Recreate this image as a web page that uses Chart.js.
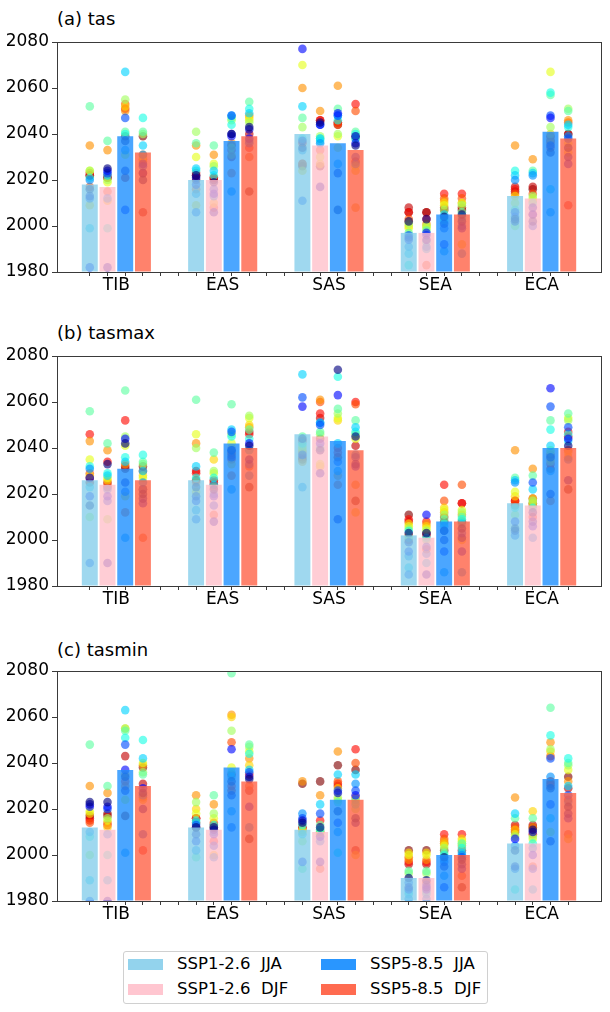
<!DOCTYPE html>
<html><head><meta charset="utf-8">
<script src="https://cdn.jsdelivr.net/npm/chart.js@4/dist/chart.umd.min.js"></script>
<style>
body{margin:0;background:#fff;width:610px;height:1012px;position:relative;overflow:hidden;font-family:"DejaVu Sans",sans-serif;}
.panel{position:absolute;left:0;width:610px;height:310px;}
.ttl{position:absolute;left:57px;font-size:18px;line-height:22px;color:#000;}
#legend{position:absolute;left:123px;top:951px;width:363px;height:51px;border:1px solid #d0d0d0;border-radius:3px;}
.it{position:absolute;font-size:16.5px;line-height:20px;white-space:pre;color:#000;}
.pt{position:absolute;width:35px;height:11px;}
</style></head><body>
<div class="ttl" style="top:8px">(a) tas</div>
<div class="ttl" style="top:322px">(b) tasmax</div>
<div class="ttl" style="top:639px">(c) tasmin</div>
<canvas id="c0" class="panel" width="610" height="310" style="top:0px"></canvas>
<canvas id="c1" class="panel" width="610" height="310" style="top:314px"></canvas>
<canvas id="c2" class="panel" width="610" height="310" style="top:629px"></canvas>
<div id="legend"></div>
<script>
const regions = ['TIB','EAS','SAS','SEA','ECA'];
const seriesNames = ['SSP1-2.6  JJA','SSP1-2.6  DJF','SSP5-8.5  JJA','SSP5-8.5  DJF'];
const yTicks = [1980, 2000, 2020, 2040, 2060, 2080];

// bar heights [series][region]
const tasBars    = [[2018,2020,2040,1997,2013],[2017,2020,2035,1997,2012],[2039,2037,2036,2005,2041],[2032,2039,2033,2005,2038]];
const tasmaxBars = [[2026,2026,2046,2002,2016],[2024,2024,2045,2001,2015],[2031,2042,2043,2008,2040],[2026,2040,2039,2008,2040]];
const tasminBars = [[2012,2012,2011,1990,2005],[2011,2011,2010,1990,2005],[2037,2038,2024,2000,2033],[2030,2032,2024,2000,2027]];

// model values per region: [series][model]
const tas_TIB = [[2016,2013,1982,2012,2020,1999,2021,2052,2024,2024,2009,2035,2017,2023,2022,2022],
 [2025,1982,2024,2023,2012,2022,1999,2037,2020,2019,2011,2033,2015,2022,2021,2021],
 [2037,2024,2007,2047,2033,2067,2040,2041,2055,2031,2052,2050,2053,2051,2021,2039],
 [2020,2023,2027,2026,2031,2035,2047,2041,2040,2030,2028,2031,2029,2023,2006,2039]];
const tas_EAS = [[2022,2021,2018,2006,2014,2025,2024,2036,2041,2030,2009,2035,2016,2023,2022,2020],
 [2019,2006,2014,2016,2013,2024,2022,2035,2026,2027,2010,2031,2008,2021,2021,2020],
 [2040,2040,2039,2048,2015,2048,2044,2047,2046,2034,2031,2036,2023,2033,2030,2035],
 [2043,2042,2038,2036,2037,2049,2051,2054,2045,2046,2047,2048,2030,2034,2040,2015]];
const tas_SAS = [[2034,2037,2077,2011,2033,2052,2038,2047,2043,2070,2024,2060,2027,2036,2027,2026],
 [2045,2017,2044,2044,2036,2038,2037,2038,2039,2030,2027,2050,2033,2046,2046,2026],
 [2007,2023,2049,2048,2027,2048,2046,2051,2040,2039,2034,2061,2044,2045,2045,2044],
 [2035,2039,2036,2030,2027,2038,2040,2041,2038,2026,2024,2008,2050,2053,2028,2039]];
const tas_SEA = [[2002,1995,1994,1996,1991,1988,1983,1997,2001,1999,2000,2002,2003,2006,2008,2006],
 [2003,1994,1997,1996,1991,1990,1993,1998,2000,1999,2000,2001,1983,2003,2006,2006],
 [2004,2001,1992,1999,1989,2005,2002,2003,2007,2009,2010,2011,2012,2014,2008,2007],
 [2005,2002,1999,2000,1988,2004,2003,2006,2009,2010,1992,2010,2012,2014,2008,2007]];
const tas_ECA = [[2003,2002,2006,2004,2020,2022,2024,2007,2000,2010,2013,2035,2014,2016,2017,2015],
 [2002,2008,2005,2000,2022,2023,2010,2024,2013,2012,2011,2029,2014,2005,2017,2016],
 [2032,2035,2047,2048,2006,2016,2058,2057,2043,2067,2040,2038,2036,2034,2039,2037],
 [2034,2030,2027,2038,2039,2044,2043,2050,2051,2036,2032,2046,2045,2009,2040,2040]];

const tasmax_TIB = [[2015,2027,2019,1990,2031,2023,2032,2056,2010,2035,2028,2043,2029,2046,2027,2025],
 [2033,1990,2019,2017,2022,2028,2029,2042,2009,2027,2026,2039,2024,2034,2025,2023],
 [2042,2025,2044,2021,2001,2034,2036,2065,2045,2041,2019,2033,2012,2052,2032,2031],
 [2020,2018,2016,2022,2025,2030,2037,2034,2033,2027,2028,2022,2001,2022,2030,2032]];
const tasmax_EAS = [[2023,2019,2017,2009,2013,2032,2027,2061,2040,2046,2021,2042,2025,2029,2030,2026],
 [2022,2008,2019,2015,2020,2024,2027,2038,2030,2029,2035,2023,2011,2025,2026,2024],
 [2039,2036,2039,2047,2022,2048,2045,2059,2046,2042,2033,2040,2028,2035,2038,2037],
 [2041,2035,2042,2033,2028,2039,2044,2048,2054,2053,2050,2049,2032,2046,2047,2023]];
const tasmax_SAS = [[2044,2037,2058,2062,2023,2072,2042,2045,2041,2040,2039,2034,2038,2043,2036,2035],
 [2039,2029,2042,2050,2051,2051,2040,2047,2046,2033,2032,2061,2060,2055,2053,2044],
 [2074,2009,2063,2034,2030,2042,2071,2057,2055,2053,2052,2028,2024,2038,2040,2036],
 [2045,2033,2032,2036,2037,2049,2047,2052,2046,2044,2012,2024,2059,2060,2041,2017]];
const tasmax_SEA = [[2003,1999,1995,1985,1993,1988,2004,2001,2005,2006,2007,2002,2000,2009,2008,2011],
 [2003,1985,2011,1997,1994,1990,2001,2000,2004,2005,2006,2007,1996,2008,2002,2003],
 [2004,2000,1995,2004,1986,2006,2007,2009,2011,2013,2014,2012,2017,2024,2010,2008],
 [2005,2001,1995,2003,1986,2007,2009,2010,2012,2013,2000,2011,2024,2016,2016,2008]];
const tasmax_ECA = [[2005,2004,2008,2002,2025,2026,2014,2027,2011,2021,2019,2039,2016,2017,2017,2015],
 [2012,2008,2006,2025,2001,2022,2014,2028,2017,2016,2018,2031,2015,2010,2018,2016],
 [2036,2020,2066,2058,2030,2041,2048,2052,2039,2038,2034,2035,2017,2033,2037,2031],
 [2041,2026,2044,2049,2035,2043,2046,2055,2052,2053,2038,2036,2039,2047,2045,2022]];

const tasmin_TIB = [[2023,2022,2021,1980,2010,1989,2008,2048,2000,2019,2018,2030,2014,2015,2016,2017],
 [2023,1980,2021,2020,2009,1989,2000,2030,2016,2015,2012,2027,2014,2013,2017,2018],
 [2034,2028,2037,2048,2001,2063,2051,2054,2055,2024,2055,2035,2030,2032,2043,2017],
 [2027,2020,2029,2009,2026,2042,2050,2035,2036,2040,2024,2039,2025,2002,2031,2038]];
const tasmin_EAS = [[2012,2009,2006,2013,2002,2014,2015,1999,2023,2018,2020,2026,2014,2016,2016,2012],
 [2012,2011,2009,2004,1999,2010,2013,2026,2018,2016,2000,2022,2014,2006,2013,2012],
 [2032,2026,2046,2012,2019,2034,2036,2079,2054,2038,2060,2061,2049,2030,2028,2035],
 [2033,2034,2021,2036,2012,2037,2044,2048,2047,2045,2039,2042,2030,2035,2028,2007]];
const tasmin_SAS = [[2014,2015,1997,2016,2018,2009,2013,1994,2006,2011,2010,2032,2011,2012,2012,2031],
 [2012,1997,2008,2018,2006,2022,2011,2013,2011,2009,2010,2026,1994,2015,2010,2032],
 [2019,2027,2014,2028,2010,2035,2001,2023,2025,2024,2029,2045,2032,2031,2030,2039],
 [2016,2014,2026,2028,2031,2035,2022,2024,2020,2023,2000,2025,2040,2046,2002,2037]];
const tasmin_SEA = [[1990,1986,1985,1988,1981,1983,1984,1993,1992,2000,2001,1998,1999,1997,1996,2002],
 [1989,1986,1985,1987,1981,1983,1984,1993,1992,2000,2001,1998,1988,1997,1996,2002],
 [1999,1995,1986,1997,1991,1998,2000,2001,2003,2004,2005,2006,2007,2009,2005,2002],
 [1998,1996,1994,1999,2000,2001,2003,2005,2005,2006,2007,2004,1991,2009,2002,1986]];
const tasmin_ECA = [[2002,1995,2007,1994,2004,2018,1985,2016,2008,2009,2011,2025,2012,2011,2013,2010],
 [2011,2010,2000,1994,2003,1985,2005,2016,2008,2007,2019,2012,1995,2009,2013,2012],
 [2029,2006,2022,2042,2034,2016,2052,2064,2046,2010,2045,2049,2043,2030,2032,2031],
 [2021,2018,2016,2026,2023,2030,2042,2040,2039,2037,2007,2032,2009,2024,2029,2034]];

const barColors = ['rgba(135,206,235,0.8)','rgba(255,192,203,0.8)','rgba(30,144,255,0.8)','rgba(255,99,71,0.8)'];
const legendColors = ['rgba(135,206,235,0.9)','rgba(255,192,203,0.9)','rgba(30,144,255,0.95)','rgba(255,99,71,0.95)'];

function jet(t){
  const c = v => Math.max(0, Math.min(1, v));
  const r = c(1.5 - Math.abs(4*t - 3)), g = c(1.5 - Math.abs(4*t - 2)), b = c(1.5 - Math.abs(4*t - 1));
  return `rgba(${Math.round(r*255)},${Math.round(g*255)},${Math.round(b*255)},0.62)`;
}

const frame = {id:'frame', afterDatasetsDraw(c){
  const {ctx, chartArea:a} = c; ctx.save(); ctx.strokeStyle='#3a3a3a'; ctx.lineWidth=1;
  ctx.strokeRect(Math.round(a.left)+0.5, Math.round(a.top)+0.5, Math.round(a.right-a.left), Math.round(a.bottom-a.top));
  ctx.restore();
}};

const GAP = 6; // slots per region group
function makePanel(id, bars, dots){
  const datasets = [];
  bars.forEach((vals, k) => {
    datasets.push({type:'bar', label:seriesNames[k], order:0, grouped:false,
      barPercentage:0.9, categoryPercentage:1.0, base:yTicks[0],
      backgroundColor:barColors[k], borderWidth:0,
      data: regions.map((r, g) => ({x: GAP*g + k, y: vals[g]}))});
  });
  const nModels = dots[0][0].length;
  for (let m = 0; m < nModels; m++){
    const data = [];
    dots.forEach((reg, g) => reg.forEach((ser, k) => data.push({x: GAP*g + k, y: ser[m]})));
    datasets.push({type:'scatter', order:1, data, backgroundColor: jet(m/(nModels-1)),
      borderWidth:0, pointRadius:4.3, pointHoverRadius:4.3});
  }
  const tickFont = {family:'DejaVu Sans', size:17};
  new Chart(document.getElementById(id), {
    type:'bar',
    data:{datasets},
    options:{
      responsive:false, animation:false, devicePixelRatio:1,
      layout:{padding:{top:42, right:9, bottom:8, left:0}},
      plugins:{legend:{display:false}, tooltip:{enabled:false}},
      scales:{
        x:{type:'linear', min:-1.85, max:28.85, offset:false, bounds:'data',
          afterBuildTicks: s => {
            const t = [];
            for (let i = 0; i < GAP*regions.length - 2; i++) t.push({value:i});
            regions.forEach((r, g) => t.push({value: GAP*g + 1.5}));
            s.ticks = t;
          },
          afterFit: s => { s.height = 30; },
          ticks:{autoSkip:false, maxRotation:0, minRotation:0, padding:-1, color:'#000', font:tickFont,
            callback: v => { const g = (v - 1.5)/GAP; return Number.isInteger(g) ? regions[g] : ''; }},
          grid:{display:true, drawOnChartArea:false, offset:false, tickLength:4, tickWidth:1,
            tickColor: ctx => (ctx.tick && !Number.isInteger(ctx.tick.value)) ? 'rgba(0,0,0,0)' : '#3a3a3a'},
          border:{display:false}
        },
        y:{type:'linear', min:yTicks[0], max:yTicks[yTicks.length-1],
          afterBuildTicks: s => { s.ticks = yTicks.map(v => ({value:v})); },
          afterFit: s => { s.width = 57; },
          ticks:{padding:3, color:'#000', font:tickFont, callback: v => String(v)},
          grid:{display:true, drawOnChartArea:false, tickLength:5, tickColor:'#3a3a3a'},
          border:{display:false}
        }
      }
    },
    plugins:[frame]
  });
}

makePanel('c0', tasBars, [tas_TIB, tas_EAS, tas_SAS, tas_SEA, tas_ECA]);
makePanel('c1', tasmaxBars, [tasmax_TIB, tasmax_EAS, tasmax_SAS, tasmax_SEA, tasmax_ECA]);
makePanel('c2', tasminBars, [tasmin_TIB, tasmin_EAS, tasmin_SAS, tasmin_SEA, tasmin_ECA]);

// legend (2 columns: SSP1-2.6 left, SSP5-8.5 right)
const lg = document.getElementById('legend');
const pos = [[4,12],[4,37],[197,12],[197,37]];
seriesNames.forEach((n, k) => {
  const p = document.createElement('div'); p.className='pt';
  p.style.left = pos[k][0]+'px'; p.style.top = (pos[k][1]-5)+'px'; p.style.background = legendColors[k];
  lg.appendChild(p);
  const t = document.createElement('div'); t.className='it'; t.textContent = n;
  t.style.left = (pos[k][0]+49)+'px'; t.style.top = (pos[k][1]-10)+'px';
  lg.appendChild(t);
});
</script>
</body></html>
